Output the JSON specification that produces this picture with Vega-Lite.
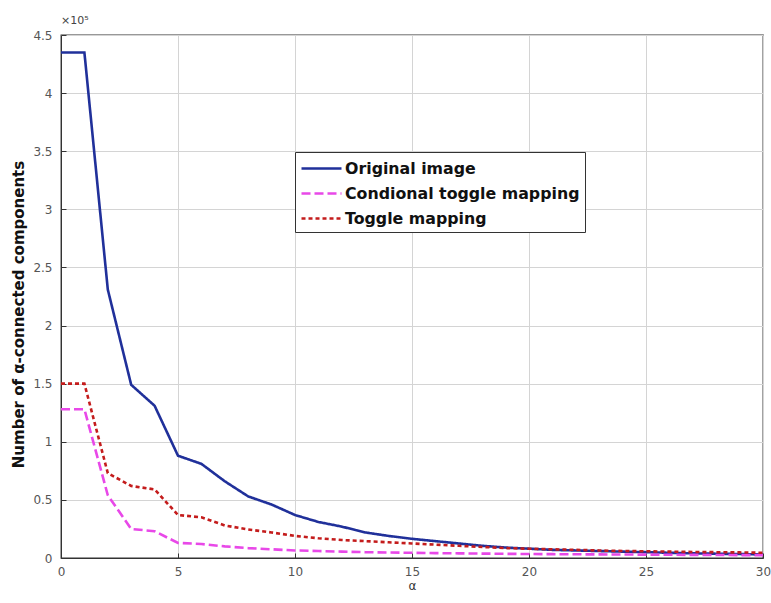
{
  "$schema": "https://vega.github.io/schema/vega-lite/v6.json",
  "autosize": "none",
  "width": 702,
  "height": 523,
  "padding": {"left": 61, "top": 35, "right": 8, "bottom": 45},
  "background": "white",
  "title": {"text": "×10⁵", "anchor": "start", "frame": "group", "fontSize": 11, "fontWeight": "normal", "font": "DejaVu Sans", "color": "#444", "offset": 3},
  "config": {
    "view": {"stroke": "#333", "strokeWidth": 1.3},
    "font": "DejaVu Sans"
  },
  "data": {"values": [
    {"a": 0, "s": "Original image", "n": 435000},
    {"a": 1, "s": "Original image", "n": 435000},
    {"a": 2, "s": "Original image", "n": 231000},
    {"a": 3, "s": "Original image", "n": 149000},
    {"a": 4, "s": "Original image", "n": 131000},
    {"a": 5, "s": "Original image", "n": 88000},
    {"a": 6, "s": "Original image", "n": 81000},
    {"a": 7, "s": "Original image", "n": 66000},
    {"a": 8, "s": "Original image", "n": 53000},
    {"a": 9, "s": "Original image", "n": 46000},
    {"a": 10, "s": "Original image", "n": 37000},
    {"a": 11, "s": "Original image", "n": 31000},
    {"a": 12, "s": "Original image", "n": 27000},
    {"a": 13, "s": "Original image", "n": 22000},
    {"a": 14, "s": "Original image", "n": 19000},
    {"a": 15, "s": "Original image", "n": 16500},
    {"a": 16, "s": "Original image", "n": 14500},
    {"a": 17, "s": "Original image", "n": 12500},
    {"a": 18, "s": "Original image", "n": 10500},
    {"a": 19, "s": "Original image", "n": 9000},
    {"a": 20, "s": "Original image", "n": 8000},
    {"a": 21, "s": "Original image", "n": 7000},
    {"a": 22, "s": "Original image", "n": 6500},
    {"a": 23, "s": "Original image", "n": 6000},
    {"a": 24, "s": "Original image", "n": 5500},
    {"a": 25, "s": "Original image", "n": 5000},
    {"a": 26, "s": "Original image", "n": 4500},
    {"a": 27, "s": "Original image", "n": 4000},
    {"a": 28, "s": "Original image", "n": 3700},
    {"a": 29, "s": "Original image", "n": 3400},
    {"a": 30, "s": "Original image", "n": 3000},
    {"a": 0, "s": "Condional toggle mapping", "n": 128000},
    {"a": 1, "s": "Condional toggle mapping", "n": 128000},
    {"a": 2, "s": "Condional toggle mapping", "n": 54000},
    {"a": 3, "s": "Condional toggle mapping", "n": 25000},
    {"a": 4, "s": "Condional toggle mapping", "n": 23000},
    {"a": 5, "s": "Condional toggle mapping", "n": 13000},
    {"a": 6, "s": "Condional toggle mapping", "n": 12000},
    {"a": 7, "s": "Condional toggle mapping", "n": 10000},
    {"a": 8, "s": "Condional toggle mapping", "n": 8500},
    {"a": 9, "s": "Condional toggle mapping", "n": 7500},
    {"a": 10, "s": "Condional toggle mapping", "n": 6500},
    {"a": 11, "s": "Condional toggle mapping", "n": 6000},
    {"a": 12, "s": "Condional toggle mapping", "n": 5500},
    {"a": 13, "s": "Condional toggle mapping", "n": 5000},
    {"a": 14, "s": "Condional toggle mapping", "n": 4700},
    {"a": 15, "s": "Condional toggle mapping", "n": 4500},
    {"a": 16, "s": "Condional toggle mapping", "n": 4200},
    {"a": 17, "s": "Condional toggle mapping", "n": 4000},
    {"a": 18, "s": "Condional toggle mapping", "n": 3800},
    {"a": 19, "s": "Condional toggle mapping", "n": 3600},
    {"a": 20, "s": "Condional toggle mapping", "n": 3400},
    {"a": 21, "s": "Condional toggle mapping", "n": 3300},
    {"a": 22, "s": "Condional toggle mapping", "n": 3200},
    {"a": 23, "s": "Condional toggle mapping", "n": 3100},
    {"a": 24, "s": "Condional toggle mapping", "n": 3000},
    {"a": 25, "s": "Condional toggle mapping", "n": 2900},
    {"a": 26, "s": "Condional toggle mapping", "n": 2800},
    {"a": 27, "s": "Condional toggle mapping", "n": 2700},
    {"a": 28, "s": "Condional toggle mapping", "n": 2600},
    {"a": 29, "s": "Condional toggle mapping", "n": 2500},
    {"a": 30, "s": "Condional toggle mapping", "n": 2500},
    {"a": 0, "s": "Toggle mapping", "n": 150000},
    {"a": 1, "s": "Toggle mapping", "n": 150000},
    {"a": 2, "s": "Toggle mapping", "n": 73000},
    {"a": 3, "s": "Toggle mapping", "n": 62000},
    {"a": 4, "s": "Toggle mapping", "n": 59000},
    {"a": 5, "s": "Toggle mapping", "n": 37000},
    {"a": 6, "s": "Toggle mapping", "n": 35000},
    {"a": 7, "s": "Toggle mapping", "n": 28000},
    {"a": 8, "s": "Toggle mapping", "n": 24500},
    {"a": 9, "s": "Toggle mapping", "n": 22000},
    {"a": 10, "s": "Toggle mapping", "n": 19000},
    {"a": 11, "s": "Toggle mapping", "n": 17000},
    {"a": 12, "s": "Toggle mapping", "n": 15500},
    {"a": 13, "s": "Toggle mapping", "n": 14500},
    {"a": 14, "s": "Toggle mapping", "n": 13500},
    {"a": 15, "s": "Toggle mapping", "n": 12500},
    {"a": 16, "s": "Toggle mapping", "n": 11500},
    {"a": 17, "s": "Toggle mapping", "n": 10500},
    {"a": 18, "s": "Toggle mapping", "n": 9500},
    {"a": 19, "s": "Toggle mapping", "n": 8500},
    {"a": 20, "s": "Toggle mapping", "n": 8000},
    {"a": 21, "s": "Toggle mapping", "n": 7500},
    {"a": 22, "s": "Toggle mapping", "n": 7000},
    {"a": 23, "s": "Toggle mapping", "n": 6500},
    {"a": 24, "s": "Toggle mapping", "n": 6000},
    {"a": 25, "s": "Toggle mapping", "n": 5800},
    {"a": 26, "s": "Toggle mapping", "n": 5500},
    {"a": 27, "s": "Toggle mapping", "n": 5200},
    {"a": 28, "s": "Toggle mapping", "n": 5000},
    {"a": 29, "s": "Toggle mapping", "n": 4800},
    {"a": 30, "s": "Toggle mapping", "n": 4500}
  ]},
  "mark": {"type": "line", "strokeWidth": 2.6, "clip": true},
  "encoding": {
    "x": {
      "field": "a", "type": "quantitative",
      "scale": {"domain": [0, 30], "nice": false, "zero": false},
      "axis": {
        "values": [0, 5, 10, 15, 20, 25, 30],
        "title": "α", "titleFontSize": 12, "titleFontWeight": "normal", "titleColor": "#333", "titlePadding": 3,
        "labelFontSize": 12, "labelColor": "#555", "labelPadding": 13,
        "grid": true, "gridColor": "#d4d4d4", "gridWidth": 1,
        "tickSize": -5, "tickColor": "#333", "domainColor": "#333", "labelFlush": false
      }
    },
    "y": {
      "field": "n", "type": "quantitative",
      "scale": {"domain": [0, 450000], "nice": false},
      "axis": {
        "values": [0, 50000, 100000, 150000, 200000, 250000, 300000, 350000, 400000, 450000],
        "labelExpr": "format(datum.value / 100000, '~g')",
        "title": "Number of α-connected components", "titleFontSize": 15, "titleFontWeight": "bold", "titleColor": "#111", "titlePadding": 6, "titleY": 279,
        "labelFontSize": 12, "labelColor": "#555", "labelPadding": 14,
        "grid": true, "gridColor": "#d4d4d4", "gridWidth": 1,
        "tickSize": -5, "tickColor": "#333", "domainColor": "#333"
      }
    },
    "color": {
      "field": "s", "type": "nominal",
      "sort": ["Original image", "Condional toggle mapping", "Toggle mapping"],
      "scale": {"domain": ["Original image", "Condional toggle mapping", "Toggle mapping"], "range": ["#20309a", "#e848e8", "#c41c1c"]},
      "legend": {
        "title": null, "orient": "none", "legendX": 234, "legendY": 117,
        "fillColor": "white", "strokeColor": "#333", "padding": 5,
        "labelFontSize": 15.8, "labelFontWeight": "bold", "labelColor": "#111", "labelLimit": 400,
        "symbolType": "M-1,0H3", "symbolSize": 400, "symbolStrokeWidth": 2.6, "rowPadding": 5, "labelOffset": 22
      }
    },
    "strokeDash": {
      "field": "s", "type": "nominal",
      "sort": ["Original image", "Condional toggle mapping", "Toggle mapping"],
      "scale": {"domain": ["Original image", "Condional toggle mapping", "Toggle mapping"], "range": [[1, 0], [9, 4], [4, 3]]},
      "legend": null
    }
  }
}
